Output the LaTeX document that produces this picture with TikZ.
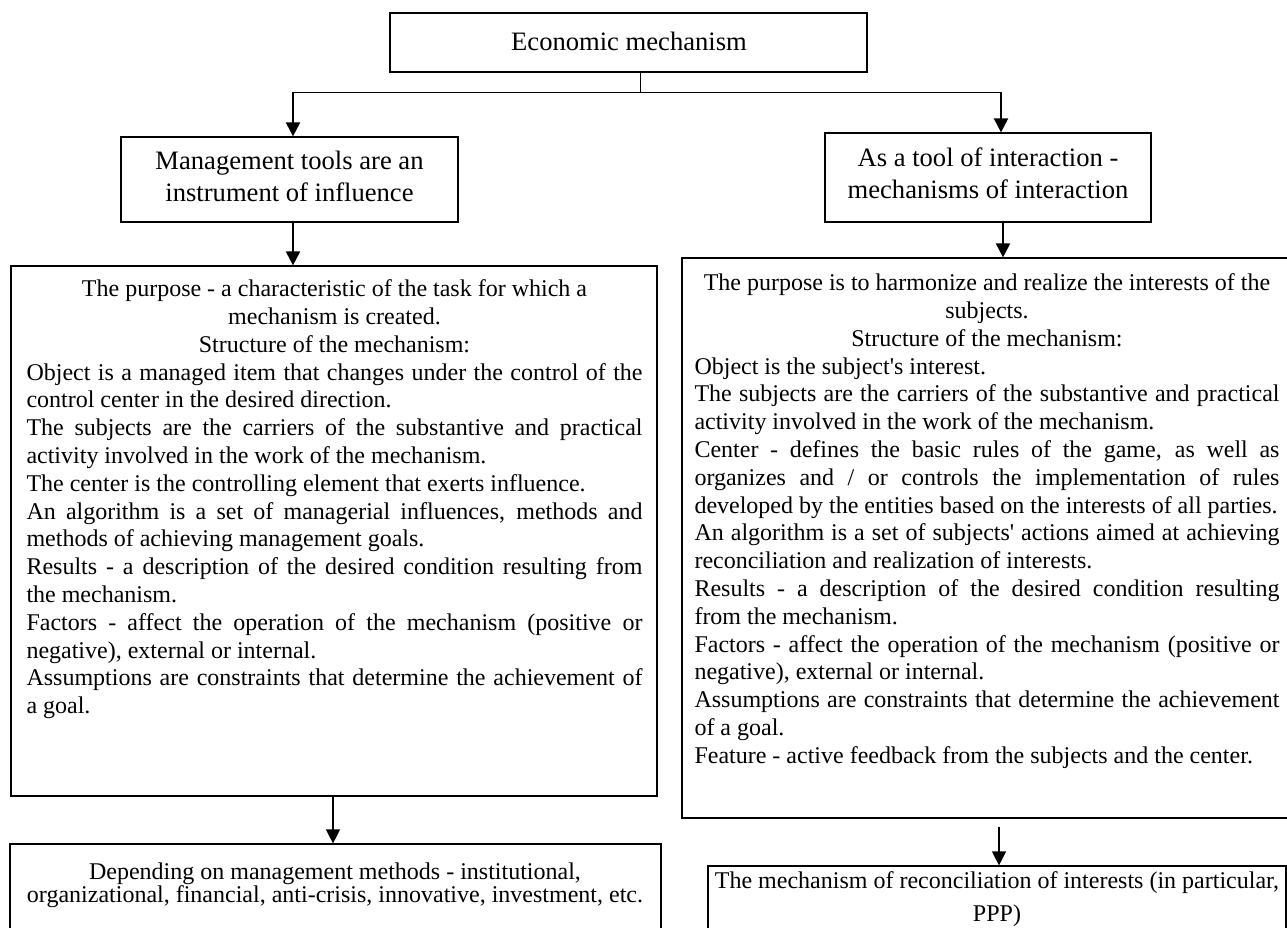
\documentclass[tikz,border=0pt]{standalone}
\usepackage{fontspec}
\setmainfont{Liberation Serif}
\usetikzlibrary{arrows.meta}
\tolerance=10000
\hbadness=10000
\hfuzz=6pt
\begin{document}
\begin{tikzpicture}[x=1pt,y=-1pt,
  box/.style={draw=black, line width=1.2pt, inner sep=0pt},
  head/.style={font=\fontsize{26.6}{32}\selectfont, align=center, inner sep=0pt},
  body/.style={font=\fontsize{24}{27.8}\selectfont, inner sep=0pt, anchor=north, align=justify},
  bottxt/.style={inner sep=0pt, anchor=north, align=center},
  thickarrow/.style={line width=2pt, -{Triangle[length=14pt,width=14pt]}},
  thinarrow/.style={line width=1.3pt, -{Triangle[length=14pt,width=14pt]}},
  link/.style={line width=1pt}]
\useasboundingbox (0,0) rectangle (1287,927);
\clip (0,0) rectangle (1287,927);
\fill[white] (0,0) rectangle (1287,927);

% boxes
\node[box, minimum width=477pt, minimum height=59pt] (top) at (628.5,42.5) {};
\node[box, minimum width=337pt, minimum height=85pt] (lmid) at (289.5,179.5) {};
\node[box, minimum width=326pt, minimum height=89pt] (rmid) at (988,177.5) {};
\node[box, minimum width=646pt, minimum height=530pt] (lbig) at (334,531) {};
\node[box, minimum width=608pt, minimum height=560pt] (rbig) at (986,538) {};
\node[box, minimum width=651pt, minimum height=100pt] (lbot) at (335.5,894) {};
\node[box, minimum width=578pt, minimum height=100pt] (rbot) at (997,916) {};

% texts
\node[head] (toptext) at (629,41) {Economic mechanism};
\node[head] (lmidtext) at (289.5,176.5) {Management tools are an\\instrument of influence};
\node[head] (rmidtext) at (988,173.5) {As a tool of interaction -\\mechanisms of interaction};

\node[body, text width=616pt] (ltext) at (334.5,279.5) {\parindent=0pt\parskip=0pt
{\centering The purpose - a characteristic of the task for which a\\ mechanism is created.\\ Structure of the mechanism:\par}
Object is a managed item that changes under the control of the\linebreak control center in the desired direction.\par
The subjects are the carriers of the substantive and practical\linebreak activity involved in the work of the mechanism.\par
The center is the controlling element that exerts influence.\par
An algorithm is a set of managerial influences, methods and\linebreak methods of achieving management goals.\par
Results - a description of the desired condition resulting from\linebreak the mechanism.\par
Factors - affect the operation of the mechanism (positive or\linebreak negative), external or internal.\par
Assumptions are constraints that determine the achievement of\linebreak a goal.};

\node[body, text width=585pt] (rtext) at (987,273.5) {\parindent=0pt\parskip=0pt
{\centering The purpose is to harmonize and realize the interests of the\\ subjects.\\ Structure of the mechanism:\par}
Object is the subject\textquotesingle s interest.\par
The subjects are the carriers of the substantive and practical\linebreak activity involved in the work of the mechanism.\par
Center - defines the basic rules of the game, as well as\linebreak organizes and / or controls the implementation of rules\linebreak developed by the entities based on the interests of all parties.\par
An algorithm is a set of subjects\textquotesingle{} actions aimed at achieving\linebreak reconciliation and realization of interests.\par
Results - a description of the desired condition resulting\linebreak from the mechanism.\par
Factors - affect the operation of the mechanism (positive or\linebreak negative), external or internal.\par
Assumptions are constraints that determine the achievement\linebreak of a goal.\par
Feature - active feedback from the subjects and the center.};

\node[bottxt, font=\fontsize{24}{23.2}\selectfont] (lbottext) at (335,862.5) {Depending on management methods - institutional,\\organizational, financial, anti-crisis, innovative, investment, etc.};
\node[bottxt, font=\fontsize{24}{33}\selectfont] (rbottext) at (997,871.5) {The mechanism of reconciliation of interests (in particular,\\PPP)};

% connectors
\coordinate (j) at (640,92);
\coordinate (jl) at (293,92);
\coordinate (jr) at (1001,92);
\coordinate (ra) at (1003,0);
\coordinate (la) at (333,0);
\coordinate (rs) at (999,827);
\draw[link] (top.south -| j) -- (j);
\draw[link] (jl) -- (jr);
\draw[thickarrow] (jl) -- (jl |- lmid.north);
\draw[thickarrow] (jr) -- (jr |- rmid.north);
\draw[thickarrow] (lmid.south -| jl) -- (jl |- lbig.north);
\draw[thickarrow] (rmid.south -| ra) -- (ra |- rbig.north);
\draw[thinarrow] (lbig.south -| la) -- (la |- lbot.north);
\draw[thinarrow] (rs) -- (rs |- rbot.north);
\end{tikzpicture}
\end{document}
